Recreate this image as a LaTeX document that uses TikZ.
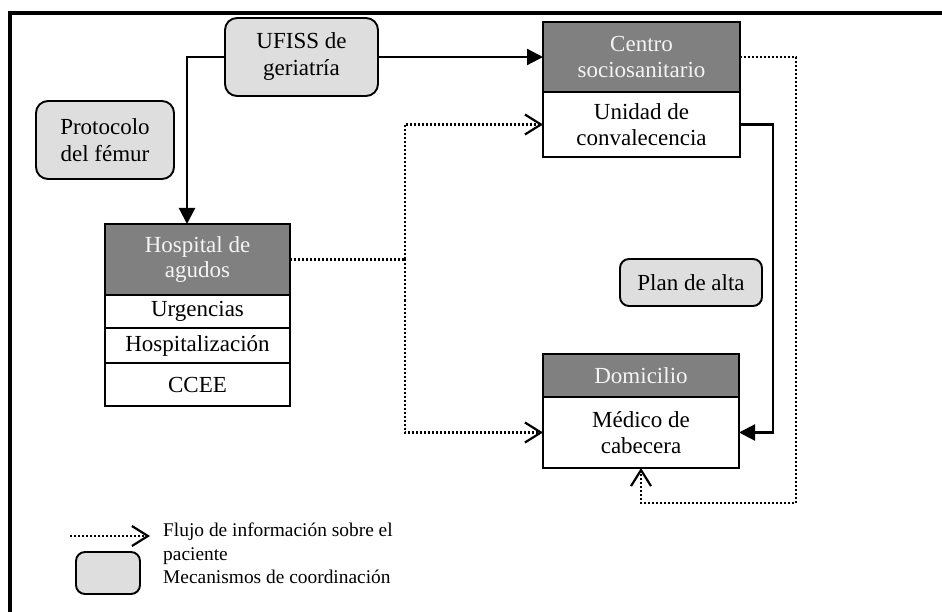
\documentclass[tikz,border=0pt]{standalone}
\usepackage{fontspec}
\setmainfont{Liberation Serif}
\usetikzlibrary{arrows.meta}

\definecolor{headgray}{HTML}{808080}
\definecolor{headtext}{HTML}{F4F4F4}
\definecolor{mechfill}{HTML}{DEDEDE}

\tikzset{
  box/.style={draw=black, line width=1.9pt, rectangle, inner sep=0pt, outer sep=0pt,
    anchor=north west, align=center, font=\fontsize{23}{25.5}\selectfont},
  headbox/.style={box, fill=headgray, text=headtext},
  bodybox/.style={box, fill=white, text=black},
  mechbox/.style={draw=black, line width=1.9pt, fill=mechfill, rounded corners=12pt,
    inner sep=0pt, outer sep=0pt, align=center, font=\fontsize{23}{27}\selectfont},
  flow/.style={draw=black, line width=2.2pt, -{Triangle[length=16pt,width=16pt]}},
  info/.style={draw=black, line width=2.2pt, dash pattern=on 2pt off 2pt},
  infoarrow/.style={info, -{Straight Barb[length=16pt,width=20pt,line width=2.2pt]}},
}

\begin{document}
\begin{tikzpicture}[x=1pt,y=-1pt]
\useasboundingbox (0,0) rectangle (942,612);

% outer frame (top and left rules only)
\draw[line width=3.5pt] (10,612) -- (10,13) -- (942,13);

% coordination mechanisms
\node[mechbox, minimum width=153pt, minimum height=78pt] (ufiss) at (301.5,57) {UFISS de\\geriatría};
\node[mechbox, minimum width=138pt, minimum height=78pt] (proto) at (105,140) {Protocolo\\del fémur};
\node[mechbox, rounded corners=9pt, minimum width=142pt, minimum height=47pt] (plan) at (691,282.5) {Plan de alta};

% Centro sociosanitario
\node[headbox, minimum width=197pt, minimum height=70pt] (centroH) at (543,22) {Centro\\sociosanitario};
\node[bodybox, minimum width=197pt, minimum height=65pt] (centroL) at (543,92) {Unidad de\\convalecencia};

% Hospital de agudos
\node[headbox, minimum width=185pt, minimum height=71pt] (hospH) at (105,224) {Hospital de\\agudos};
\node[bodybox, minimum width=185pt, minimum height=33pt] (urg) at (105,295) {Urgencias};
\node[bodybox, minimum width=185pt, minimum height=35pt] (hosp) at (105,328) {Hospitalización};
\node[bodybox, minimum width=185pt, minimum height=43pt] (ccee) at (105,363) {CCEE};

% Domicilio
\node[headbox, minimum width=196pt, minimum height=43pt] (domH) at (543,354) {Domicilio};
\node[bodybox, minimum width=196pt, minimum height=71pt] (domL) at (543,397) {Médico de\\cabecera};

% solid patient flow
\draw[flow] (ufiss.west) -| ([xshift=-10.5pt]hospH.north);
\draw[flow] (ufiss.east) -- (centroH.west);
\coordinate (r1) at (773,0);
\draw[flow] (centroL.east) -| (r1 |- domL.east) -- (domL.east);

% information flow
\coordinate (j) at (405,259.5);
\draw[info] (hospH.east) -- (j);
\draw[infoarrow] (j) |- (centroL.west);
\draw[infoarrow] (j) |- (domL.west);
\coordinate (r2) at (796,503);
\draw[infoarrow] (centroH.east) -| (r2) -| (domL.south);

% legend
\coordinate (la) at (70,536);
\coordinate (lb) at (150,536);
\draw[infoarrow] (la) -- (lb);
\node[draw=black, line width=1.9pt, fill=mechfill, rounded corners=9pt, minimum width=64pt,
  minimum height=42pt, inner sep=0pt] (lbox) at (108,573) {};
\node[anchor=north west, align=left, inner sep=0pt, font=\fontsize{19.4}{23.5}\selectfont]
  (ltext) at (163,523) {Flujo de información sobre el\\paciente\\Mecanismos de coordinación};
\end{tikzpicture}
\end{document}
